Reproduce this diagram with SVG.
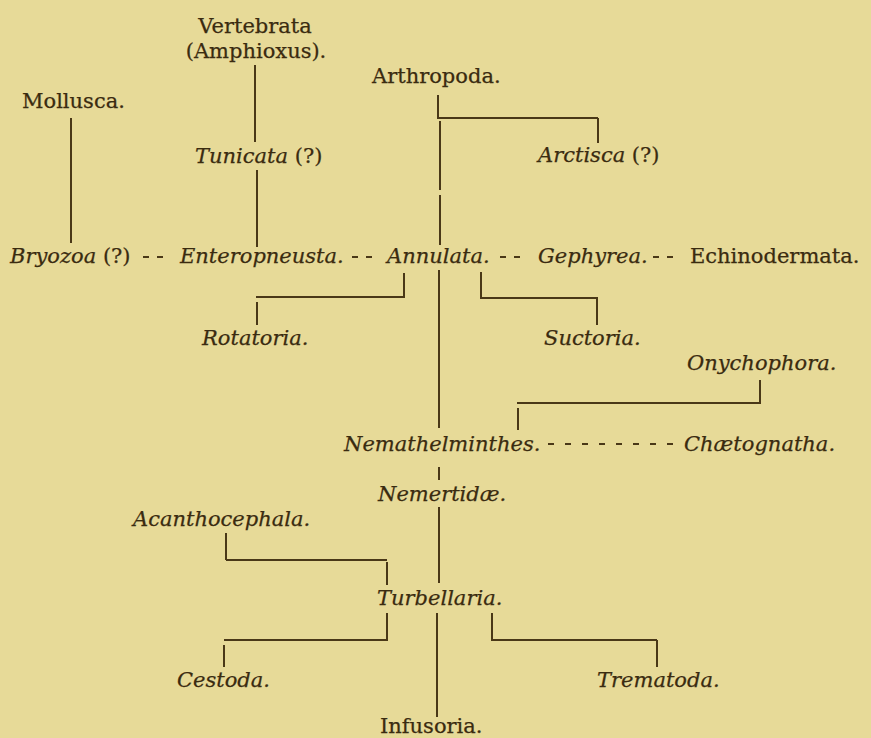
<svg xmlns="http://www.w3.org/2000/svg" width="871" height="738" viewBox="0 0 871 738">
<style>
text{font-family:"DejaVu Serif","Liberation Serif",serif;font-size:21px;fill:#3a2b10;stroke:#3a2b10;stroke-width:0.25}
.i{font-style:italic}
.c line{stroke:#4a3817;stroke-width:2;fill:none}
.c .d{stroke-dasharray:6 8}
.c .d2{stroke-dasharray:6 11}
</style>
<rect width="871" height="738" fill="#e7da98"/>
<g id="connectors" class="c">
<line x1="71" y1="118" x2="71" y2="243"/>
<line x1="255" y1="65" x2="255" y2="142"/>
<line x1="257" y1="170" x2="257" y2="247"/>
<line x1="438" y1="95" x2="438" y2="118"/>
<line x1="437" y1="118" x2="598" y2="118"/>
<line x1="598" y1="118" x2="598" y2="143"/>
<line x1="440" y1="121" x2="440" y2="190"/>
<line x1="440" y1="195" x2="440" y2="245"/>
<line class="d" x1="143" y1="257" x2="163" y2="257"/>
<line class="d" x1="352" y1="257" x2="372" y2="257"/>
<line class="d" x1="500" y1="257" x2="520" y2="257"/>
<line class="d" x1="653" y1="257" x2="673" y2="257"/>
<line x1="404" y1="273" x2="404" y2="297"/>
<line x1="256" y1="297" x2="405" y2="297"/>
<line x1="257" y1="302" x2="257" y2="325"/>
<line x1="481" y1="272" x2="481" y2="298"/>
<line x1="480" y1="298" x2="598" y2="298"/>
<line x1="597" y1="298" x2="597" y2="325"/>
<line x1="439" y1="270" x2="439" y2="428"/>
<line x1="760" y1="380" x2="760" y2="403"/>
<line x1="517" y1="403" x2="761" y2="403"/>
<line x1="518" y1="408" x2="518" y2="430"/>
<line class="d2" x1="548" y1="444" x2="673" y2="444"/>
<line x1="439" y1="467" x2="439" y2="480"/>
<line x1="439" y1="507" x2="439" y2="583"/>
<line x1="226" y1="533" x2="226" y2="560"/>
<line x1="226" y1="560" x2="387" y2="560"/>
<line x1="387" y1="562" x2="387" y2="585"/>
<line x1="387" y1="613" x2="387" y2="640"/>
<line x1="224" y1="640" x2="388" y2="640"/>
<line x1="224" y1="645" x2="224" y2="667"/>
<line x1="437" y1="613" x2="437" y2="717"/>
<line x1="492" y1="613" x2="492" y2="640"/>
<line x1="491" y1="640" x2="657" y2="640"/>
<line x1="657" y1="640" x2="657" y2="667"/>
</g>
<g id="vertebrata"><text x="255" y="33" text-anchor="middle">Vertebrata</text><text x="256" y="58" text-anchor="middle">(Amphioxus).</text></g>
<g id="mollusca"><text x="22" y="108">Mollusca.</text></g>
<g id="arthropoda"><text x="372" y="83">Arthropoda.</text></g>
<g id="tunicata"><text x="195" y="163"><tspan class="i">Tunicata</tspan> (?)</text></g>
<g id="arctisca"><text x="538" y="162"><tspan class="i">Arctisca</tspan> (?)</text></g>
<g id="bryozoa"><text x="10" y="263"><tspan class="i">Bryozoa</tspan> (?)</text></g>
<g id="enteropneusta"><text class="i" x="180" y="263">Enteropneusta.</text></g>
<g id="annulata"><text class="i" x="387" y="263">Annulata.</text></g>
<g id="gephyrea"><text class="i" x="538" y="263">Gephyrea.</text></g>
<g id="echinodermata"><text x="690" y="263">Echinodermata.</text></g>
<g id="rotatoria"><text class="i" x="202" y="345">Rotatoria.</text></g>
<g id="suctoria"><text class="i" x="544" y="345">Suctoria.</text></g>
<g id="onychophora"><text class="i" x="687" y="370">Onychophora.</text></g>
<g id="nemathelminthes"><text class="i" x="344" y="451">Nemathelminthes.</text></g>
<g id="chaetognatha"><text class="i" x="684" y="451">Chætognatha.</text></g>
<g id="nemertidae"><text class="i" x="378" y="501">Nemertidæ.</text></g>
<g id="acanthocephala"><text class="i" x="133" y="526">Acanthocephala.</text></g>
<g id="turbellaria"><text class="i" x="377" y="605">Turbellaria.</text></g>
<g id="cestoda"><text class="i" x="177" y="687">Cestoda.</text></g>
<g id="trematoda"><text class="i" x="597" y="687">Trematoda.</text></g>
<g id="infusoria"><text x="380" y="733">Infusoria.</text></g>
</svg>
